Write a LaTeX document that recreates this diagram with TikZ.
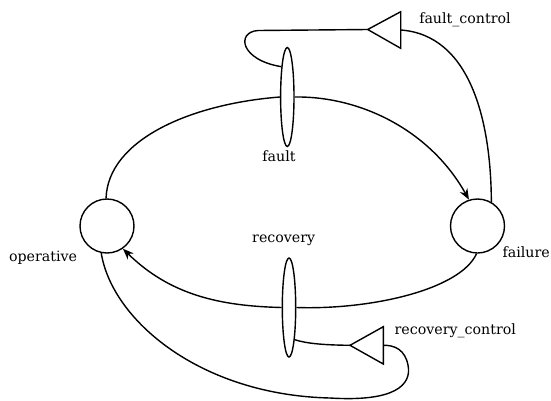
\documentclass[tikz,border=0pt]{standalone}
\usepackage{fontspec}
\setmainfont{DejaVu Serif}
\usetikzlibrary{arrows.meta,shapes.geometric}
\begin{document}
\begin{tikzpicture}[x=1pt,y=-1pt,
  line width=1.4pt,
  place/.style={draw,circle,minimum size=54pt,inner sep=0pt},
  trans/.style={draw,ellipse,minimum width=13.4pt,minimum height=99pt,inner sep=0pt},
  lbl/.style={font=\fontsize{14.2}{16}\selectfont,inner sep=0pt},
  arr/.style={-{Stealth[length=11pt,width=8.5pt]}}]
\useasboundingbox (0,0) rectangle (551,400);
% places and transitions
\node[place] (op) at (107,226) {};
\node[place] (fail) at (477.5,226) {};
\node[trans] (fault) at (287.3,97) {};
\node[trans] (rec) at (289,307.5) {};
% control triangles
\coordinate (fca) at (367.7,29.5);
\coordinate (fcb) at (400.7,30);
\draw[line join=miter] (fca) -- (400.7,11.7) -- (400.7,48.3) -- cycle;
\coordinate (rca) at (350,345.3);
\coordinate (rcb) at (383.3,345.3);
\draw[line join=miter] (rca) -- (383.3,326.7) -- (383.3,364) -- cycle;
% labels
\node[lbl] (lfault) at (279,156.5) {fault};
\node[lbl] (lrec) at (283.7,240) {recovery};
\node[lbl] (lop) at (43,258) {operative};
\node[lbl,anchor=east] (lfail) at (550.5,252.5) {failure};
\node[lbl] (lfc) at (465,20) {fault\_control};
\node[lbl] (lrc) at (455.3,331) {recovery\_control};
% arcs
\draw (op.92) .. controls (108,140) and (190,104) .. (fault.west);
\draw[arr] (fault.east) .. controls (360,96) and (430,130) .. (fail.108);
\draw (fault.101) .. controls (240,60) and (236,32) .. (258,30.5) -- (fca);
\draw (fail.60) .. controls (491,120) and (470,35) .. (fcb);
\draw (fail.-92) .. controls (460,290) and (370,310) .. (rec.east);
\draw[arr] (rec.west) .. controls (220,306) and (170,295) .. (op.-55);
\draw (rca) .. controls (320,345) and (305,343) .. (rec.-80);
\draw (op.-102) .. controls (112,320) and (200,395) .. (330,398)
  .. controls (395,402) and (412,385) .. (408,365)
  .. controls (405,350) and (395,345) .. (rcb);
\end{tikzpicture}
\end{document}
